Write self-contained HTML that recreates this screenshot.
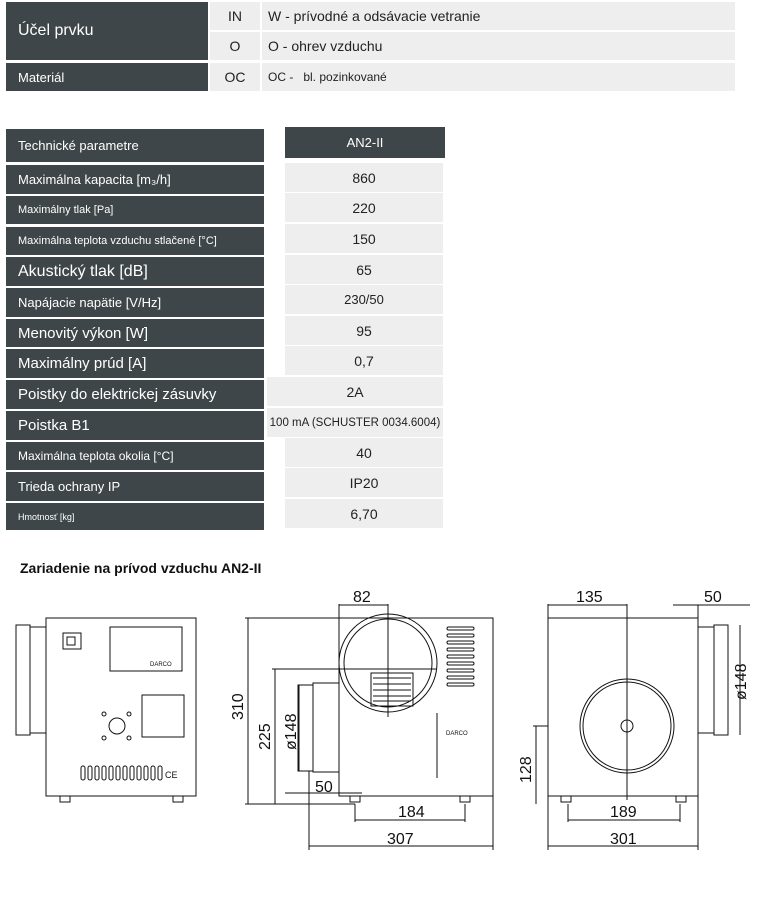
<!DOCTYPE html>
<html><head><meta charset="utf-8"><style>
body{margin:0;width:770px;height:914px;background:#fff;font-family:"Liberation Sans","DejaVu Sans",sans-serif;position:relative;overflow:hidden}
.d{position:absolute;background:#3f4649;color:#fff;box-sizing:border-box;padding-left:12px;display:flex;align-items:center;white-space:nowrap}
.l{position:absolute;background:#eeeeee;color:#222;box-sizing:border-box;display:flex;align-items:center;white-space:nowrap}
.c{justify-content:center}
svg text{font-family:"Liberation Sans",sans-serif;font-size:16px;fill:#111;stroke:none}
</style></head><body>
<div class="d" style="left:6px;top:2px;width:202px;height:58px;font-size:16px">Účel prvku</div>
<div class="l c" style="left:210px;top:2px;width:50px;height:28px;font-size:14px">IN</div>
<div class="l" style="left:262px;top:2px;width:473px;height:28px;font-size:14px;padding-left:6px">W - prívodné a odsávacie vetranie</div>
<div class="l c" style="left:210px;top:32px;width:50px;height:28px;font-size:14px">O</div>
<div class="l" style="left:262px;top:32px;width:473px;height:28px;font-size:14px;padding-left:6px">O - ohrev vzduchu</div>
<div class="d" style="left:6px;top:63px;width:202px;height:28px;font-size:13px">Materiál</div>
<div class="l c" style="left:210px;top:63px;width:50px;height:28px;font-size:14px">OC</div>
<div class="l" style="left:262px;top:63px;width:473px;height:28px;font-size:12px;padding-left:6px">OC -&nbsp;&nbsp; bl. pozinkované</div>

<div class="d" style="left:6px;top:129px;width:258px;height:33px;font-size:13px">Technické parametre</div>
<div class="d c" style="left:285px;top:127px;width:160px;height:31px;font-size:13px;padding:0">AN2-II</div>

<div class="d" style="left:6px;top:165px;width:258px;height:29px;font-size:13px">Maximálna kapacita [m₃/h]</div>
<div class="l c" style="left:285px;top:163px;width:158px;height:29px;font-size:14px">860</div>
<div class="d" style="left:6px;top:196px;width:258px;height:28px;font-size:11px">Maximálny tlak [Pa]</div>
<div class="l c" style="left:285px;top:193px;width:158px;height:29px;font-size:14px">220</div>
<div class="d" style="left:6px;top:227px;width:258px;height:28px;font-size:11px">Maximálna teplota vzduchu stlačené [°C]</div>
<div class="l c" style="left:285px;top:224px;width:158px;height:29px;font-size:14px">150</div>
<div class="d" style="left:6px;top:257px;width:258px;height:29px;font-size:16px">Akustický tlak [dB]</div>
<div class="l c" style="left:285px;top:255px;width:158px;height:29px;font-size:14px">65</div>
<div class="d" style="left:6px;top:288px;width:258px;height:29px;font-size:13px">Napájacie napätie [V/Hz]</div>
<div class="l c" style="left:285px;top:285px;width:158px;height:29px;font-size:13px">230/50</div>
<div class="d" style="left:6px;top:319px;width:258px;height:28px;font-size:15px">Menovitý výkon [W]</div>
<div class="l c" style="left:285px;top:316px;width:158px;height:29px;font-size:14px">95</div>
<div class="d" style="left:6px;top:349px;width:258px;height:29px;font-size:15px">Maximálny prúd [A]</div>
<div class="l c" style="left:285px;top:346px;width:158px;height:29px;font-size:14px">0,7</div>
<div class="d" style="left:6px;top:380px;width:258px;height:29px;font-size:15px">Poistky do elektrickej zásuvky</div>
<div class="l c" style="left:267px;top:377px;width:176px;height:29px;font-size:14px">2A</div>
<div class="d" style="left:6px;top:411px;width:258px;height:29px;font-size:15px">Poistka B1</div>
<div class="l c" style="left:267px;top:408px;width:176px;height:29px;font-size:11.5px">100 mA (SCHUSTER 0034.6004)</div>
<div class="d" style="left:6px;top:442px;width:258px;height:28px;font-size:12px">Maximálna teplota okolia [°C]</div>
<div class="l c" style="left:285px;top:438px;width:158px;height:29px;font-size:14px">40</div>
<div class="d" style="left:6px;top:472px;width:258px;height:29px;font-size:13px">Trieda ochrany IP</div>
<div class="l c" style="left:285px;top:468px;width:158px;height:29px;font-size:14px">IP20</div>
<div class="d" style="left:6px;top:503px;width:258px;height:27px;font-size:9px">Hmotnosť [kg]</div>
<div class="l c" style="left:285px;top:499px;width:158px;height:29px;font-size:14px">6,70</div>

<div style="position:absolute;left:20px;top:560px;font-size:14px;font-weight:bold;color:#111">Zariadenie na prívod vzduchu AN2-II</div>

<svg width="770" height="914" style="position:absolute;left:0;top:0" fill="none" stroke="#111" stroke-width="1">
<!-- left view -->
<rect x="16" y="625" width="14" height="110"/><rect x="30" y="627" width="16" height="106"/>
<rect x="46" y="618" width="150" height="178"/>
<rect x="63" y="633" width="18" height="16"/><rect x="67" y="637" width="8" height="8"/>
<rect x="110" y="627" width="72" height="44"/><text x="150" y="666" style="font-size:6px">DARCO</text>
<rect x="142" y="695" width="42" height="42"/>
<circle cx="117" cy="726" r="8"/><circle cx="104" cy="714" r="2"/><circle cx="129" cy="714" r="2"/><circle cx="104" cy="738" r="2"/><circle cx="129" cy="738" r="2"/>
<g><rect x="81" y="766" width="4" height="14" rx="2"/><rect x="88" y="766" width="4" height="14" rx="2"/><rect x="95" y="766" width="4" height="14" rx="2"/><rect x="102" y="766" width="4" height="14" rx="2"/><rect x="109" y="766" width="4" height="14" rx="2"/><rect x="116" y="766" width="4" height="14" rx="2"/><rect x="123" y="766" width="4" height="14" rx="2"/><rect x="130" y="766" width="4" height="14" rx="2"/><rect x="137" y="766" width="4" height="14" rx="2"/><rect x="144" y="766" width="4" height="14" rx="2"/><rect x="151" y="766" width="4" height="14" rx="2"/><rect x="158" y="766" width="4" height="14" rx="2"/></g>
<text x="165" y="778" style="font-size:9px">CE</text>
<rect x="60" y="796" width="10" height="6"/><rect x="173" y="796" width="10" height="6"/>
<!-- middle view -->
<rect x="339" y="618" width="154" height="178"/>
<circle cx="388" cy="663" r="49"/><circle cx="388" cy="663" r="44"/>
<rect x="371" y="673" width="42" height="33"/>
<g><line x1="373" y1="678" x2="411" y2="678"/><line x1="373" y1="684" x2="411" y2="684"/><line x1="373" y1="690" x2="411" y2="690"/><line x1="373" y1="696" x2="411" y2="696"/><line x1="373" y1="701" x2="411" y2="701"/></g>
<g><rect x="447" y="627" width="27" height="3" rx="1.5"/><rect x="447" y="634" width="27" height="3" rx="1.5"/><rect x="447" y="641" width="27" height="3" rx="1.5"/><rect x="447" y="648" width="27" height="3" rx="1.5"/><rect x="447" y="655" width="27" height="3" rx="1.5"/><rect x="447" y="662" width="27" height="3" rx="1.5"/><rect x="447" y="669" width="27" height="3" rx="1.5"/><rect x="447" y="676" width="27" height="3" rx="1.5"/><rect x="447" y="683" width="27" height="3" rx="1.5"/></g>
<text x="446" y="735" style="font-size:6px">DARCO</text>
<line x1="388" y1="604" x2="388" y2="717"/><line x1="272" y1="669" x2="436" y2="669"/>
<rect x="313" y="683" width="26" height="89"/><rect x="298" y="685" width="15" height="86"/>
<line x1="245" y1="618" x2="339" y2="618"/><line x1="245" y1="804" x2="355" y2="804"/>
<line x1="248" y1="618" x2="248" y2="804"/><text x="0" y="0" transform="translate(243,720) rotate(-90)">310</text>
<line x1="275" y1="669" x2="275" y2="804"/><text x="0" y="0" transform="translate(270,750) rotate(-90)">225</text>
<line x1="299" y1="685" x2="299" y2="771"/><text x="0" y="0" transform="translate(296,750) rotate(-90)">ø148</text>
<line x1="339" y1="604" x2="339" y2="618"/><line x1="339" y1="605" x2="388" y2="605"/><text x="353" y="602">82</text>
<line x1="285" y1="793" x2="362" y2="793"/><text x="315" y="792">50</text>
<line x1="355" y1="804" x2="355" y2="822"/><line x1="465" y1="804" x2="465" y2="822"/><line x1="355" y1="820" x2="465" y2="820"/><text x="398" y="817">184</text>
<line x1="309" y1="771" x2="309" y2="850"/><line x1="493" y1="796" x2="493" y2="850"/><line x1="309" y1="846" x2="493" y2="846"/><text x="387" y="844">307</text>
<line x1="437" y1="713" x2="437" y2="778"/>
<!-- right view -->
<rect x="548" y="618" width="150" height="178"/>
<rect x="698" y="627" width="16" height="106"/><rect x="714" y="625" width="14" height="110"/>
<circle cx="627" cy="726" r="47"/><circle cx="627" cy="726" r="44"/><circle cx="627" cy="726" r="6"/>
<line x1="627" y1="604" x2="627" y2="800"/>
<line x1="548" y1="604" x2="548" y2="618"/><line x1="548" y1="605" x2="627" y2="605"/><text x="576" y="602">135</text>
<line x1="673" y1="605" x2="750" y2="605"/><line x1="698" y1="605" x2="698" y2="618"/><text x="704" y="602">50</text>
<line x1="740" y1="625" x2="740" y2="735"/><text x="0" y="0" transform="translate(746,700) rotate(-90)">ø148</text>
<line x1="533" y1="726" x2="548" y2="726"/><line x1="536" y1="726" x2="536" y2="804"/><text x="0" y="0" transform="translate(531,783) rotate(-90)">128</text>
<line x1="568" y1="804" x2="568" y2="822"/><line x1="680" y1="804" x2="680" y2="822"/><line x1="568" y1="820" x2="680" y2="820"/><text x="610" y="817">189</text>
<line x1="548" y1="796" x2="548" y2="850"/><line x1="698" y1="796" x2="698" y2="850"/><line x1="548" y1="846" x2="698" y2="846"/><text x="610" y="844">301</text>
<rect x="561" y="796" width="10" height="6"/><rect x="676" y="796" width="10" height="6"/>
<rect x="350" y="796" width="10" height="6"/><rect x="460" y="796" width="10" height="6"/>
</svg>
</body></html>
